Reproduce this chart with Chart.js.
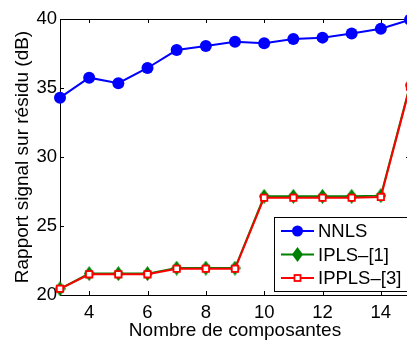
<!DOCTYPE html>
<html>
<head>
<meta charset="utf-8">
<script src="https://cdn.jsdelivr.net/npm/chart.js@4/dist/chart.umd.min.js"></script>
<style>
  html, body { margin: 0; padding: 0; background: #fff; overflow: hidden; }
  #wrap { width: 419px; height: 340px; position: relative; }
  canvas { display: block; }
</style>
</head>
<body>
<div id="wrap"><canvas id="c" width="419" height="340" style="width:419px;height:340px"></canvas></div>
<script>
// ---- data ----
const components = [3, 4, 5, 6, 7, 8, 9, 10, 11, 12, 13, 14, 15];
const nnls  = [34.3, 35.75, 35.35, 36.45, 37.75, 38.05, 38.35, 38.25, 38.55, 38.65, 38.95, 39.3, 39.95];
const ipls  = [20.45, 21.55, 21.55, 21.55, 21.95, 21.95, 21.95, 27.15, 27.15, 27.15, 27.15, 27.2, 35.2];
const ippls = [20.45, 21.5, 21.5, 21.5, 21.9, 21.9, 21.9, 27.05, 27.05, 27.05, 27.05, 27.1, 35.1];
const xTicks = [4, 6, 8, 10, 12, 14];
const yTicks = [20, 25, 30, 35, 40];
const seriesNames = ['NNLS', 'IPLS\u2013[1]', 'IPPLS\u2013[3]'];
const xTitle = 'Nombre de composantes';
const yTitle = 'Rapport signal sur r\u00e9sidu (dB)';

const BLUE = '#0000ff', GREEN = '#008000', RED = '#ff0000';
const FONT = '"Liberation Sans", Arial, Helvetica, sans-serif';

function makeDiamond(w, h) {
  const cv = document.createElement('canvas');
  cv.width = w; cv.height = h;
  const g = cv.getContext('2d');
  g.fillStyle = GREEN;
  g.beginPath();
  g.moveTo(w / 2, 0); g.lineTo(w, h / 2); g.lineTo(w / 2, h); g.lineTo(0, h / 2);
  g.closePath(); g.fill();
  return cv;
}
const diamond = makeDiamond(11, 15);

const toPts = arr => arr.map((v, i) => ({ x: components[i], y: v }));

const framePlugin = {
  id: 'frame',
  beforeDatasetsDraw(chart) {
    const { ctx, chartArea: a, scales } = chart;
    ctx.save();
    ctx.strokeStyle = '#000';
    ctx.lineWidth = 1;
    ctx.beginPath();
    ctx.rect(a.left + 0.5, a.top + 0.5, a.right - a.left, a.bottom - a.top);
    ctx.stroke();
    ctx.beginPath();
    xTicks.forEach(v => {
      const px = Math.round(scales.x.getPixelForValue(v)) + 0.5;
      ctx.moveTo(px, a.bottom); ctx.lineTo(px, a.bottom - 4);
      ctx.moveTo(px, a.top); ctx.lineTo(px, a.top + 4);
    });
    yTicks.forEach(v => {
      const py = Math.round(scales.y.getPixelForValue(v)) + 0.5;
      ctx.moveTo(a.left, py); ctx.lineTo(a.left + 4, py);
      ctx.moveTo(a.right, py); ctx.lineTo(a.right - 4, py);
    });
    ctx.stroke();
    ctx.restore();
  },
  afterDatasetsDraw(chart) {
    const { ctx } = chart;
    const bx = 274.5, by = 217.5, bw = 160, bh = 74;
    ctx.save();
    ctx.fillStyle = '#fff';
    ctx.fillRect(bx, by, bw, bh);
    ctx.strokeStyle = '#000';
    ctx.lineWidth = 1;
    ctx.strokeRect(bx, by, bw, bh);
    const rows = [231, 254.5, 278];
    const colors = [BLUE, GREEN, RED];
    ctx.font = '18.5px ' + FONT;
    ctx.textBaseline = 'middle';
    ctx.textAlign = 'left';
    rows.forEach((y, i) => {
      ctx.strokeStyle = colors[i];
      ctx.lineWidth = 2;
      ctx.beginPath(); ctx.moveTo(281, y); ctx.lineTo(314, y); ctx.stroke();
      const mx = 297.5;
      if (i === 0) {
        ctx.fillStyle = BLUE;
        ctx.beginPath(); ctx.arc(mx, y, 5.5, 0, Math.PI * 2); ctx.fill();
      } else if (i === 1) {
        ctx.drawImage(diamond, mx - 5.5, y - 7.5);
      } else {
        ctx.fillStyle = '#fff';
        ctx.strokeStyle = RED;
        ctx.lineWidth = 1.8;
        ctx.fillRect(mx - 3, y - 3, 6, 6);
        ctx.strokeRect(mx - 3, y - 3, 6, 6);
      }
      ctx.fillStyle = '#000';
      ctx.fillText(seriesNames[i], 318, y + 1);
    });
    ctx.restore();
  }
};

new Chart(document.getElementById('c'), {
  type: 'line',
  data: {
    datasets: [
      { label: seriesNames[0], data: toPts(nnls), borderColor: BLUE, backgroundColor: BLUE,
        borderWidth: 2, pointRadius: 6, pointStyle: 'circle', pointBorderWidth: 0, order: 2, clip: false },
      { label: seriesNames[1], data: toPts(ipls), borderColor: GREEN, backgroundColor: GREEN,
        borderWidth: 2, pointRadius: 7, pointStyle: diamond, order: 1, clip: false },
      { label: seriesNames[2], data: toPts(ippls), borderColor: RED, backgroundColor: '#fff',
        borderWidth: 2, pointRadius: 4.5, pointStyle: 'rect', pointBorderWidth: 1.8,
        pointBackgroundColor: '#fff', pointBorderColor: RED, order: 0, clip: false }
    ]
  },
  options: {
    responsive: false,
    devicePixelRatio: 1,
    animation: false,
    layout: { padding: { left: 0, right: 0, top: 19, bottom: 0 } },
    plugins: { legend: { display: false }, tooltip: { enabled: false } },
    elements: { line: { tension: 0 } },
    scales: {
      x: {
        type: 'linear', min: 3, max: 15,
        afterBuildTicks: s => { s.ticks = xTicks.map(v => ({ value: v })); },
        afterFit: s => { s.height = 45; s.paddingLeft = 0; s.paddingRight = 0; },
        grid: { display: false, drawTicks: false },
        border: { display: false },
        ticks: { color: '#000', font: { size: 18.5, family: FONT }, padding: 6.5, maxRotation: 0, autoSkip: false },
        title: { display: true, text: xTitle, color: '#000', font: { size: 19, family: FONT }, padding: { top: 0, bottom: -2 } }
      },
      y: {
        type: 'linear', min: 20, max: 40,
        afterBuildTicks: s => { s.ticks = yTicks.map(v => ({ value: v })); },
        afterFit: s => { s.width = 60; s.paddingTop = 0; s.paddingBottom = 0; },
        grid: { display: false, drawTicks: false },
        border: { display: false },
        ticks: { color: '#000', font: { size: 18.5, family: FONT }, padding: 3 },
        title: { display: true, text: yTitle, color: '#000', font: { size: 19, family: FONT }, padding: { top: 11.5, bottom: 0 } }
      }
    }
  },
  plugins: [framePlugin]
});
</script>
</body>
</html>
